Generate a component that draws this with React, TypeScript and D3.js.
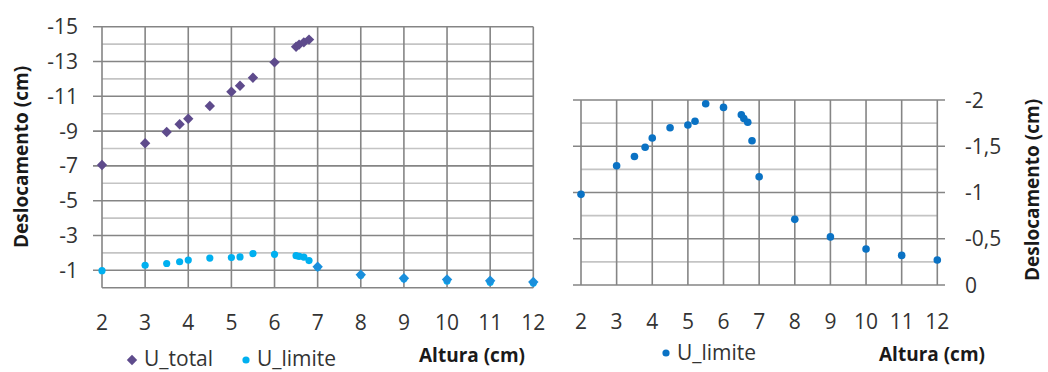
import React from "react";
import * as d3 from "d3";

// ---- data ----
const totalX = [2, 3, 3.5, 3.8, 4, 4.5, 5, 5.2, 5.5, 6, 6.5, 6.57, 6.68, 6.8, 7, 8, 9, 10, 11, 12];
const totalY = [-7.05, -8.3, -8.95, -9.39, -9.71, -10.44, -11.26, -11.61, -12.07, -12.95, -13.85, -13.97, -14.1, -14.26, -1.2, -0.75, -0.54, -0.47, -0.4, -0.33];
const limiteX = [2, 3, 3.5, 3.8, 4, 4.5, 5, 5.2, 5.5, 6, 6.5, 6.57, 6.68, 6.8, 7, 8, 9, 10, 11, 12];
const limiteY = [-0.98, -1.29, -1.39, -1.49, -1.59, -1.7, -1.73, -1.77, -1.96, -1.92, -1.84, -1.8, -1.76, -1.56, -1.17, -0.71, -0.52, -0.39, -0.32, -0.27];
const xTicks = [2, 3, 4, 5, 6, 7, 8, 9, 10, 11, 12];
const leftYTicks = [-15, -13, -11, -9, -7, -5, -3, -1];
const leftYMinor = [-14, -12, -10, -8, -6, -4, -2];
const rightYTicks = [0, -0.5, -1, -1.5, -2];
const rightYMinor = [-0.25, -0.75, -1.25, -1.75];
const rightYLabels = ["0", "-0,5", "-1", "-1,5", "-2"];

const FONT = "'Open Sans', 'Liberation Sans', sans-serif";
const DARK = "#858585";
const LIGHT = "#c4c4c4";
const TXT = "#333333";

export default function App() {
  const lx = d3.scaleLinear().domain([2, 12]).range([102, 533.3]);
  const ly = d3.scaleLinear().domain([0, -15]).range([287.7, 26.7]);
  const rx = d3.scaleLinear().domain([2, 12]).range([581, 937.3]);
  const ry = d3.scaleLinear().domain([0, -2]).range([285, 100]);
  const diamondPath = (cx: number, cy: number, r: number) =>
    `M${cx},${cy - r}L${cx + r},${cy}L${cx},${cy + r}L${cx - r},${cy}Z`;

  return (
    <svg
      width={1048}
      height={372}
      style={{ position: "absolute", left: 0, top: 0, background: "#fff" }}
      fontFamily={FONT}
    >
      <rect x={0} y={0} width={1048} height={372} fill="#fff" />
      {/* ---------- LEFT CHART ---------- */}
      <g>
        {leftYMinor.map((v) => (
          <line key={"lm" + v} x1={lx(2)} x2={lx(12)} y1={ly(v)} y2={ly(v)} stroke={LIGHT} strokeWidth={1.6} />
        ))}
        {leftYTicks.map((v) => (
          <line key={"lM" + v} x1={93} x2={lx(12)} y1={ly(v)} y2={ly(v)} stroke={DARK} strokeWidth={1.6} />
        ))}
        {xTicks.map((v) => (
          <line key={"lv" + v} x1={lx(v)} x2={lx(v)} y1={ly(-15)} y2={ly(0)} stroke={DARK} strokeWidth={1.6} />
        ))}
        <line x1={lx(2)} x2={lx(12)} y1={ly(0)} y2={ly(0)} stroke={DARK} strokeWidth={1.6} />
        {leftYTicks.map((v) => (
          <text key={"lt" + v} x={78} y={ly(v)} dy="0.36em" textAnchor="end" fontSize={21} fill={TXT}>
            {v}
          </text>
        ))}
        {xTicks.map((v) => (
          <text key={"lx" + v} x={lx(v)} y={330} textAnchor="middle" fontSize={21} fill={TXT}>
            {v}
          </text>
        ))}
        {limiteX.map((x, i) => (
          <circle key={"lc" + i} cx={lx(x)} cy={ly(limiteY[i])} r={3.6} fill="#00b0f0" />
        ))}
        {totalX.map((x, i) => (
          <path
            key={"ld" + i}
            d={diamondPath(lx(x), ly(totalY[i]), 5.2)}
            fill={x >= 7 ? "#1a8fdc" : "#5e4b8c"}
          />
        ))}
        <text
          transform={`translate(28,157) rotate(-90)`}
          textAnchor="middle"
          fontSize={19}
          fontWeight="bold"
          fill="#1a1a1a"
        >
          Deslocamento (cm)
        </text>
        <text x={472} y={362} textAnchor="middle" fontSize={19} fontWeight="bold" fill="#1a1a1a">
          Altura (cm)
        </text>
        {/* legend */}
        <path d={diamondPath(132, 360, 5.2)} fill="#5e4b8c" />
        <text x={144} y={366} fontSize={21} fill={TXT}>U_total</text>
        <circle cx={246} cy={360} r={3.6} fill="#00b0f0" />
        <text x={257} y={366} fontSize={21} fill={TXT}>U_limite</text>
      </g>

      {/* ---------- RIGHT CHART ---------- */}
      <g>
        {rightYMinor.map((v) => (
          <line key={"rm" + v} x1={rx(2)} x2={rx(12)} y1={ry(v)} y2={ry(v)} stroke={LIGHT} strokeWidth={1.6} />
        ))}
        {rightYTicks.map((v) => (
          <line key={"rM" + v} x1={573} x2={945} y1={ry(v)} y2={ry(v)} stroke={DARK} strokeWidth={1.6} />
        ))}
        {xTicks.map((v) => (
          <line key={"rv" + v} x1={rx(v)} x2={rx(v)} y1={ry(-2)} y2={ry(0)} stroke={DARK} strokeWidth={1.6} />
        ))}
        {rightYTicks.map((v, i) => (
          <text key={"rt" + v} x={965} y={ry(v)} dy="0.36em" textAnchor="start" fontSize={21} fill={TXT}>
            {rightYLabels[i]}
          </text>
        ))}
        {xTicks.map((v) => (
          <text key={"rx" + v} x={rx(v)} y={329} textAnchor="middle" fontSize={21} fill={TXT}>
            {v}
          </text>
        ))}
        {limiteX.map((x, i) => (
          <circle key={"rc" + i} cx={rx(x)} cy={ry(limiteY[i])} r={3.8} fill="#0a72c4" />
        ))}
        <text
          transform={`translate(1039,190) rotate(-90)`}
          textAnchor="middle"
          fontSize={19}
          fontWeight="bold"
          fill="#1a1a1a"
        >
          Deslocamento (cm)
        </text>
        <text x={932} y={361} textAnchor="middle" fontSize={19} fontWeight="bold" fill="#1a1a1a">
          Altura (cm)
        </text>
        <circle cx={666} cy={353} r={3.6} fill="#0a72c4" />
        <text x={677} y={360} fontSize={21} fill={TXT}>U_limite</text>
      </g>
    </svg>
  );
}
